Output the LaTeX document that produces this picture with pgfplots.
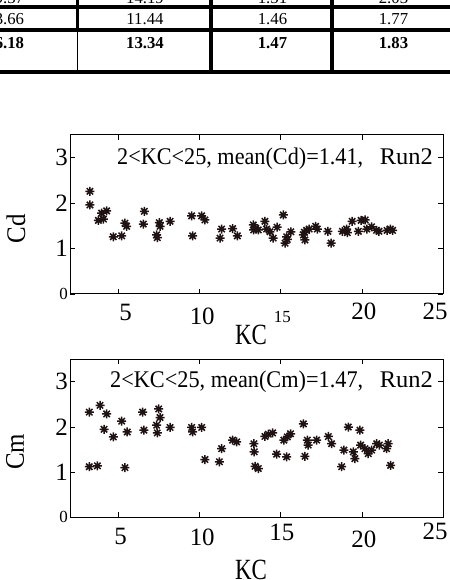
\documentclass[border=0pt]{standalone}
\usepackage{fontspec}
\setmainfont{Liberation Serif}
\usepackage{pgfplots}
\pgfplotsset{compat=1.18}
\definecolor{mk}{RGB}{30,18,18}
\pgfdeclareplotmark{mstar}{%
  \pgfpathmoveto{\pgfpoint{-\pgfplotmarksize}{0pt}}\pgfpathlineto{\pgfpoint{\pgfplotmarksize}{0pt}}%
  \pgfpathmoveto{\pgfpoint{0pt}{-\pgfplotmarksize}}\pgfpathlineto{\pgfpoint{0pt}{\pgfplotmarksize}}%
  \pgfpathmoveto{\pgfpoint{-0.707\pgfplotmarksize}{-0.707\pgfplotmarksize}}\pgfpathlineto{\pgfpoint{0.707\pgfplotmarksize}{0.707\pgfplotmarksize}}%
  \pgfpathmoveto{\pgfpoint{-0.707\pgfplotmarksize}{0.707\pgfplotmarksize}}\pgfpathlineto{\pgfpoint{0.707\pgfplotmarksize}{-0.707\pgfplotmarksize}}%
  \pgfusepathqstroke}
\newcommand{\tl}[2]{\raisebox{#1bp}[17bp][0pt]{#2}}
\pgfplotsset{
  myax/.style={
    scale only axis, width=373bp,
    xmin=2, xmax=25, ymin=0, ymax=3.5,
    xtick={5,10,15,20,25}, ytick={0,1,2,3},
    tick align=inside, major tick length=5bp,
    axis line style={line width=1bp, black},
    tick style={line width=0.8bp, black},
    xticklabel style={font=\fontsize{25}{25}\selectfont, inner sep=0pt, yshift=-9bp},
    yticklabel style={font=\fontsize{25}{25}\selectfont, inner sep=0pt, xshift=-2bp},
    yticklabels={{\fontsize{17}{17}\selectfont 0\hspace{6bp}},1,2,3},
    clip=false,
  },
  myplot/.style={only marks, mark=mstar, mark size=4.5bp, color=mk, mark options={line width=1.5bp}},
}
\begin{document}
\begin{tikzpicture}
\useasboundingbox (0,0) rectangle (450bp,580bp);
\begin{scope}[x=1bp,y=1bp]
\clip (0,0) rectangle (450,580);
% table fragment
\draw[line width=4bp] (0,572.5) -- (450,572.5);
\draw[line width=4bp] (0,549.7) -- (450,549.7);
\draw[line width=4bp] (0,508) -- (450,508);
\draw[line width=3bp] (77.5,580) -- (77.5,549.7);
\draw[line width=1.3bp] (77.5,549.7) -- (77.5,508);
\draw[line width=4bp] (211.3,580) -- (211.3,508);
\draw[line width=4bp] (332,580) -- (332,508);
\begin{scope}[every node/.style={font=\fontsize{16.8}{16.8}\selectfont, inner sep=0pt}]
\node[anchor=base east] at (24.3,576.7) {9.37};
\node[anchor=base] at (145,576.7) {14.19};
\node[anchor=base] at (272.5,576.7) {1.51};
\node[anchor=base] at (393.5,576.7) {2.03};
\node[anchor=base east] at (24.3,555) {3.66};
\node[anchor=base] at (145,555) {11.44};
\node[anchor=base] at (272.5,555) {1.46};
\node[anchor=base] at (393.5,555) {1.77};
\node[anchor=base east] at (24.3,531.7) {\bfseries 6.18};
\node[anchor=base] at (145,531.7) {\bfseries 13.34};
\node[anchor=base] at (272.5,531.7) {\bfseries 1.47};
\node[anchor=base] at (393.5,531.7) {\bfseries 1.83};
\end{scope}
\end{scope}

\begin{axis}[myax, height=159bp, at={(70bp,286bp)}, anchor=south west,
  xticklabels={\tl{0}{\hspace{14bp}5},\tl{-4}{\hspace{5bp}10},{\raisebox{-2bp}[17bp][0pt]{\fontsize{17}{17}\selectfont\hspace{3bp}15}},\tl{1}{20\hspace{-4bp}},\tl{1}{25\hspace{16bp}}}]
\addplot[myplot] coordinates {
(3.23,2.26) (3.23,1.96) (3.75,1.62) (3.95,1.78) (4.06,1.65) (4.26,1.83)
(4.67,1.26) (5.19,1.28) (5.39,1.56) (5.49,1.49) (6.52,1.54) (6.58,1.82)
(7.34,1.30) (7.38,1.24) (7.51,1.57) (7.55,1.49) (8.17,1.60) (9.50,1.72)
(9.56,1.28) (10.12,1.72) (10.32,1.63) (11.25,1.23) (11.35,1.43) (12.03,1.44)
(12.32,1.28) (13.30,1.52) (13.33,1.41) (13.45,1.45) (13.61,1.41) (14.02,1.60)
(14.12,1.43) (14.33,1.37) (14.53,1.23) (14.77,1.47) (15.15,1.74) (15.26,1.12)
(15.36,1.26) (15.40,1.20) (15.62,1.37) (16.39,1.30) (16.45,1.36) (16.49,1.19)
(16.59,1.40) (16.75,1.43) (17.15,1.49) (17.25,1.43) (17.90,1.38) (18.10,1.12)
(18.80,1.38) (19.05,1.43) (19.10,1.35) (19.40,1.60) (19.78,1.38) (19.95,1.62)
(20.20,1.63) (20.30,1.43) (20.60,1.48) (20.90,1.40) (21.05,1.38) (21.55,1.40)
(21.75,1.43) (21.89,1.40)
};
\end{axis}

\begin{axis}[myax, height=158bp, at={(70bp,62.7bp)}, anchor=south west,
  xticklabels={\tl{-1}{\hspace{4bp}5},\tl{-2}{\hspace{5bp}10},\tl{3}{\hspace{2bp}15},\tl{-4}{20\hspace{-4bp}},\tl{4}{25\hspace{16bp}}}]
\addplot[myplot] coordinates {
(3.19,1.12) (3.19,2.33) (3.69,1.14) (3.85,2.48) (4.10,1.95) (4.26,2.29)
(4.67,1.78) (5.19,2.13) (5.39,1.10) (5.53,1.89) (6.48,2.33) (6.56,1.93)
(7.34,2.04) (7.38,1.87) (7.47,2.40) (7.55,2.21) (8.17,1.99) (9.50,1.99)
(9.56,1.89) (10.12,1.99) (10.32,1.28) (11.21,1.23) (11.35,1.52) (12.03,1.71)
(12.28,1.67) (13.34,1.63) (13.36,1.45) (13.41,1.13) (13.61,1.08) (14.02,1.79)
(14.23,1.84) (14.49,1.87) (14.74,1.40) (15.19,1.71) (15.36,1.34) (15.40,1.78)
(15.60,1.85) (16.39,2.07) (16.49,1.35) (16.63,1.71) (16.69,1.60) (17.21,1.71)
(17.93,1.79) (18.13,1.63) (18.75,1.12) (18.89,1.49) (19.16,2.00) (19.47,1.45)
(19.57,1.30) (19.88,1.93) (19.92,1.60) (20.19,1.52) (20.39,1.41) (20.60,1.49)
(20.91,1.63) (21.07,1.60) (21.52,1.52) (21.62,1.63) (21.77,1.15)
};
\end{axis}

\begin{scope}[x=1bp,y=1bp]
\node[anchor=base west, inner sep=0pt, font=\fontsize{24}{24}\selectfont] at (117,415) {\resizebox{246bp}{\height}{2<KC<25, mean(Cd)=1.41,}};
\node[anchor=base east, inner sep=0pt, font=\fontsize{24}{24}\selectfont] at (433,415) {\resizebox{53bp}{\height}{Run2}};
\node[anchor=base west, inner sep=0pt, font=\fontsize{24}{24}\selectfont] at (110,192.7) {\resizebox{253bp}{\height}{2<KC<25, mean(Cm)=1.47,}};
\node[anchor=base east, inner sep=0pt, font=\fontsize{24}{24}\selectfont] at (433,192.7) {\resizebox{53bp}{\height}{Run2}};
\node[rotate=90, inner sep=0pt, font=\fontsize{25}{25}\selectfont] at (16,351) {\scalebox{1}[1.08]{Cd}};
\node[rotate=90, inner sep=0pt, font=\fontsize{25}{25}\selectfont] at (15,128) {\scalebox{1}[1.08]{Cm}};
\node[inner sep=0pt, font=\fontsize{23}{23}\selectfont] at (251,245) {\scalebox{1}[1.28]{KC}};
\node[inner sep=0pt, font=\fontsize{23}{23}\selectfont] at (251,10) {\scalebox{1}[1.28]{KC}};
\end{scope}
\end{tikzpicture}
\end{document}
